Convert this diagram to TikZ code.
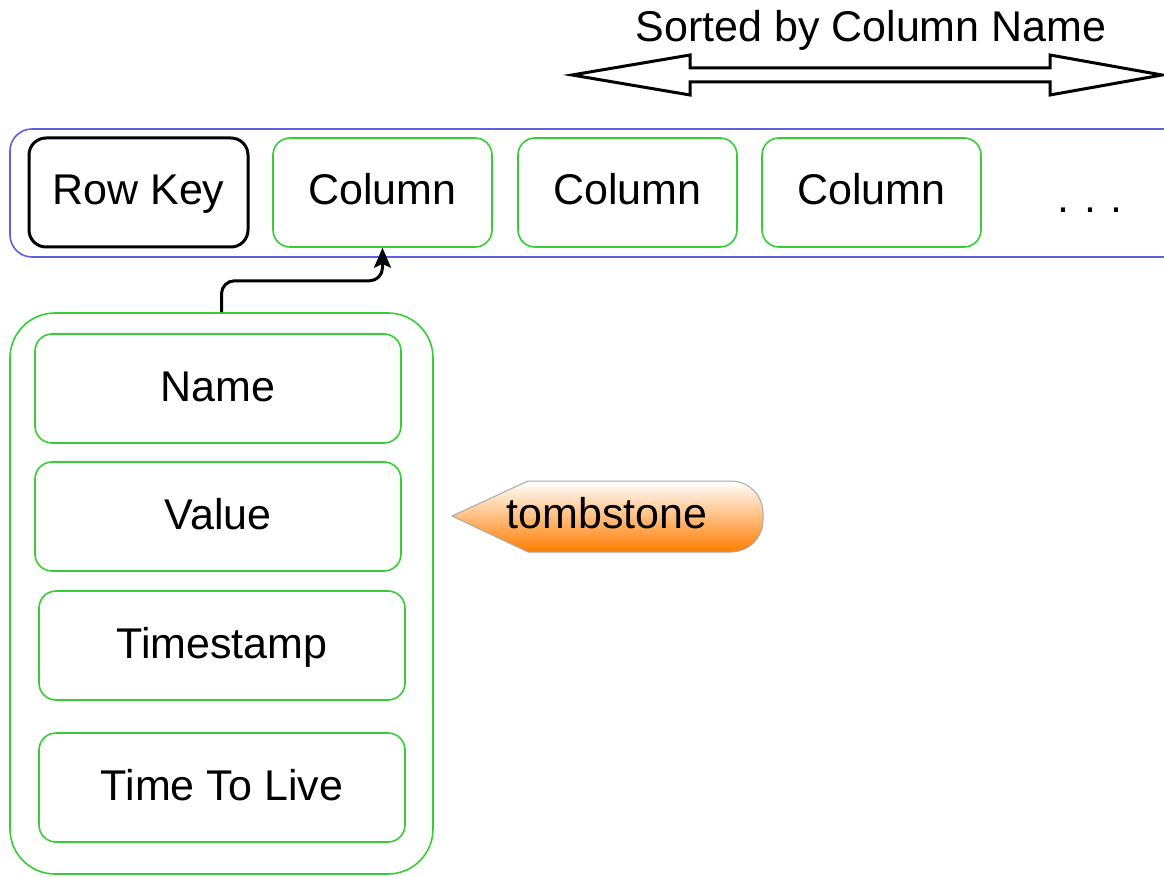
\documentclass[tikz,border=0pt]{standalone}
\usepackage{fontspec}
\setmainfont{Liberation Sans}
\usetikzlibrary{arrows.meta,calc}
\definecolor{rowblue}{RGB}{95,95,225}
\definecolor{cellgreen}{RGB}{55,205,55}
\definecolor{tagorange}{RGB}{255,125,0}
\definecolor{tagedge}{RGB}{170,170,170}
\tikzset{
  lbl/.style={font=\fontsize{43}{50}\selectfont, text=black},
  cell/.style={lbl, draw=cellgreen, line width=1.6pt, rounded corners=17pt,
    minimum width=219pt, minimum height=109pt, inner sep=0pt,
    text height=31pt, text depth=6pt},
  keycell/.style={cell, draw=black, line width=3pt},
  field/.style={cell, minimum width=366pt},
  conn/.style={draw=black, line width=3pt, rounded corners=13pt,
    -{Stealth[length=20pt,width=17pt,inset=4pt]}},
  bigarrow/.style={draw=black, line width=3pt, fill=white, line join=miter},
}
\begin{document}
\begin{tikzpicture}[x=1pt,y=-1pt]
\useasboundingbox (0,0) rectangle (1164,877);
\fill[white] (0,0) rectangle (1164,877);

% heading and two-way arrow
\node[lbl] (sorted) at (871,30) {Sorted by Column Name};
\draw[bigarrow] (572,75) -- (690,55) -- (690,68) -- (1050,68) -- (1050,55)
  -- (1162,75) -- (1050,95) -- (1050,82) -- (690,82) -- (690,95) -- cycle;

% the row: key followed by its columns
\draw[rowblue, line width=1.6pt, rounded corners=22pt]
  (1175,129) -- (10,129) -- (10,257) -- (1175,257);
\node[keycell] (rowkey) at (138.5,192.5) {Row Key};
\node[cell] (col1) at (382.5,192.5) {Column};
\node[cell] (col2) at (627.5,192.5) {Column};
\node[cell] (col3) at (871.5,192.5) {Column};
\node[lbl, anchor=base] (more) at (1090,213) {.\,\,.\,\,.};

% parts of one column
\node[draw=cellgreen, line width=1.6pt, rounded corners=45pt,
  minimum width=423pt, minimum height=561pt, inner sep=0pt]
  (column) at (221.5,593.5) {};
\node[field] (name) at (218,388.5) {Name};
\node[field] (value) at (218,516.5) {Value};
\node[field] (stamp) at (222,645.5) {Timestamp};
\node[field] (ttl) at (222,787.5) {Time To Live};

\draw[conn] (column.north) |- ($(col1.south)+(0,33)$) -- (col1.south);

% tombstone tag
\shade[top color=white, bottom color=tagorange, draw=tagedge, line width=1pt]
  (452,516) -- (528,481) [rounded corners=32pt] -- (763,481) -- (763,552)
  [sharp corners] -- (528,552) -- cycle;
\node[lbl] (tomb) at (607,513) {tombstone};
\end{tikzpicture}
\end{document}
